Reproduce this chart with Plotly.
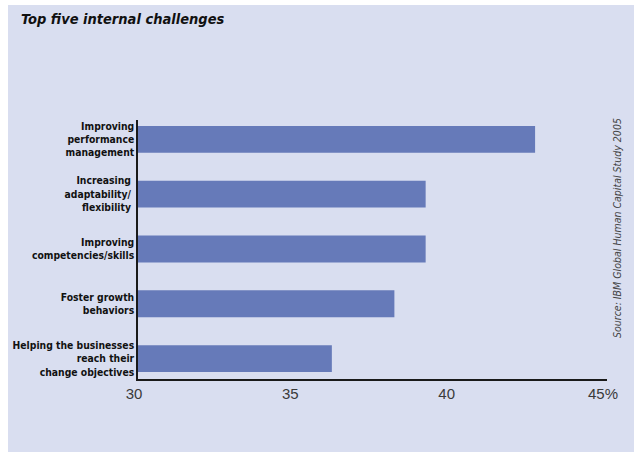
import plotly.graph_objects as go

# Survey results: share of respondents naming each internal challenge
categories = [
    "Improving<br>performance<br>management",
    "Increasing <br>adaptability/ <br>flexibility ",
    "Improving<br>competencies/skills",
    "Foster growth<br>behaviors",
    "Helping the businesses<br>reach their<br>change objectives",
]
values = [42.7, 39.2, 39.2, 38.2, 36.2]
tick_vals = [30, 35, 40, 45]
tick_text = ["30", "35", "40", "45%"]

W, H = 634, 452
L, R, T, B = 138, 27, 120, 73
PW, PH = W - L - R, H - T - B

PANEL = "#D9DEF0"
BAR = "#667AB9"
NARROW = "DejaVu Sans Condensed"


def px_x(x):
    return (x - L) / PW


def px_y(y):
    return (H - B - y) / PH


fig = go.Figure(
    go.Bar(
        x=values,
        y=list(range(len(categories))),
        orientation="h",
        marker=dict(color=BAR, line=dict(width=0)),
        width=0.49,
    )
)

fig.update_layout(
    width=W,
    height=H,
    margin=dict(l=L, r=R, t=T, b=B, autoexpand=False),
    paper_bgcolor="white",
    plot_bgcolor="rgba(0,0,0,0)",
    showlegend=False,
    shapes=[
        dict(
            type="rect", xref="paper", yref="paper",
            x0=px_x(8), x1=px_x(W + 2), y0=px_y(H + 2), y1=px_y(5),
            fillcolor=PANEL, line=dict(width=0), layer="below",
        )
    ],
    annotations=[
        dict(
            text="<b><i>Top five internal challenges</i></b>",
            xref="paper", yref="paper", x=px_x(19), y=px_y(19),
            xanchor="left", yanchor="middle", showarrow=False,
            font=dict(family=NARROW, size=14.5, color="#111111"),
        ),
        dict(
            text="<i>Source: IBM Global Human Capital Study 2005</i>",
            xref="paper", yref="paper", x=px_x(617), y=px_y(228),
            xanchor="center", yanchor="middle", textangle=-90, showarrow=False,
            font=dict(family=NARROW, size=10.5, color="#444444"),
        ),
    ],
)

fig.update_xaxes(
    range=[30, 45],
    tickvals=tick_vals,
    ticktext=tick_text,
    showgrid=False,
    zeroline=False,
    showline=True,
    linecolor="#1a1a1a",
    linewidth=1.5,
    ticks="",
    automargin=False,
    ticklabelshift=-4,
    tickfont=dict(family="Liberation Sans", size=15, color="#3a3a3a"),
)

fig.update_yaxes(
    range=[4.373, -0.353],
    tickvals=list(range(len(categories))),
    ticktext=["<b>" + c.replace("<br>", "</b><br><b>") + "</b>" for c in categories],
    showgrid=False,
    zeroline=False,
    showline=True,
    linecolor="#1a1a1a",
    linewidth=1.5,
    ticks="",
    automargin=False,
    ticklabelstandoff=0,
    tickfont=dict(family=NARROW, size=10.3, color="#111111"),
)

fig.write_html("out.html")
